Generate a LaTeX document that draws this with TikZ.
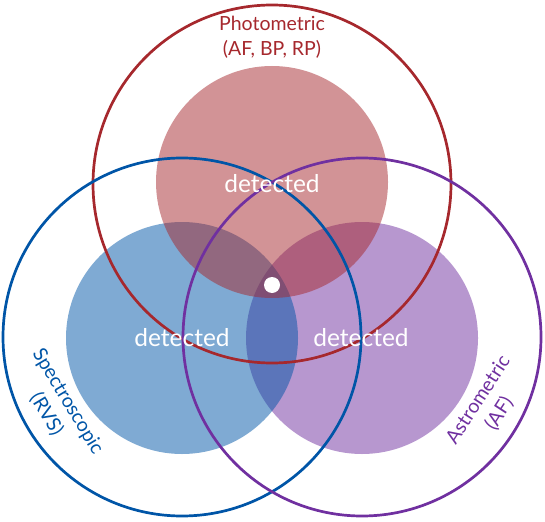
\documentclass[tikz,border=0pt]{standalone}
\usepackage{fontspec}
\setmainfont{Lato}
\usetikzlibrary{positioning}
\definecolor{photred}{RGB}{166,40,45}
\definecolor{specblue}{RGB}{0,85,167}
\definecolor{astpurple}{RGB}{112,48,160}

\begin{document}
\begin{tikzpicture}[line cap=round,line join=round,x=1pt,y=-1pt,
  ringtext/.style={align=center,font=\fontsize{19.5}{25}\selectfont},
  dettext/.style={white,font=\fontsize{24.5}{28}\selectfont}]
\useasboundingbox (0,0) rectangle (545,521);
% inner discs, half transparent
\fill[astpurple,fill opacity=0.5] (362,338) circle (116pt);
\fill[specblue,fill opacity=0.5] (182,338) circle (116pt);
\fill[photred,fill opacity=0.5] (272,182) circle (116pt);
% outer rings
\draw[photred,line width=2.7pt] (272,184) circle (179pt);
\draw[specblue,line width=2.7pt] (182,337) circle (179pt);
\draw[astpurple,line width=2.7pt] (362,337) circle (179pt);
% centre dot
\fill[white] (272,285) circle (8pt);
% labels
\node[ringtext,photred] (phot) at (272,37) {Photometric\\(AF, BP, RP)};
\node[ringtext,specblue,rotate=-59] (spec) at (57,408) {Spectroscopic\\(RVS)};
\node[ringtext,astpurple,rotate=57] (astr) at (489,407) {Astrometric\\(AF)};
\node[dettext] (detphot) at (272,184) {detected};
\node[dettext] (detspec) at (182,338) {detected};
\node[dettext] (detastr) at (361,338) {detected};
\end{tikzpicture}
\end{document}
